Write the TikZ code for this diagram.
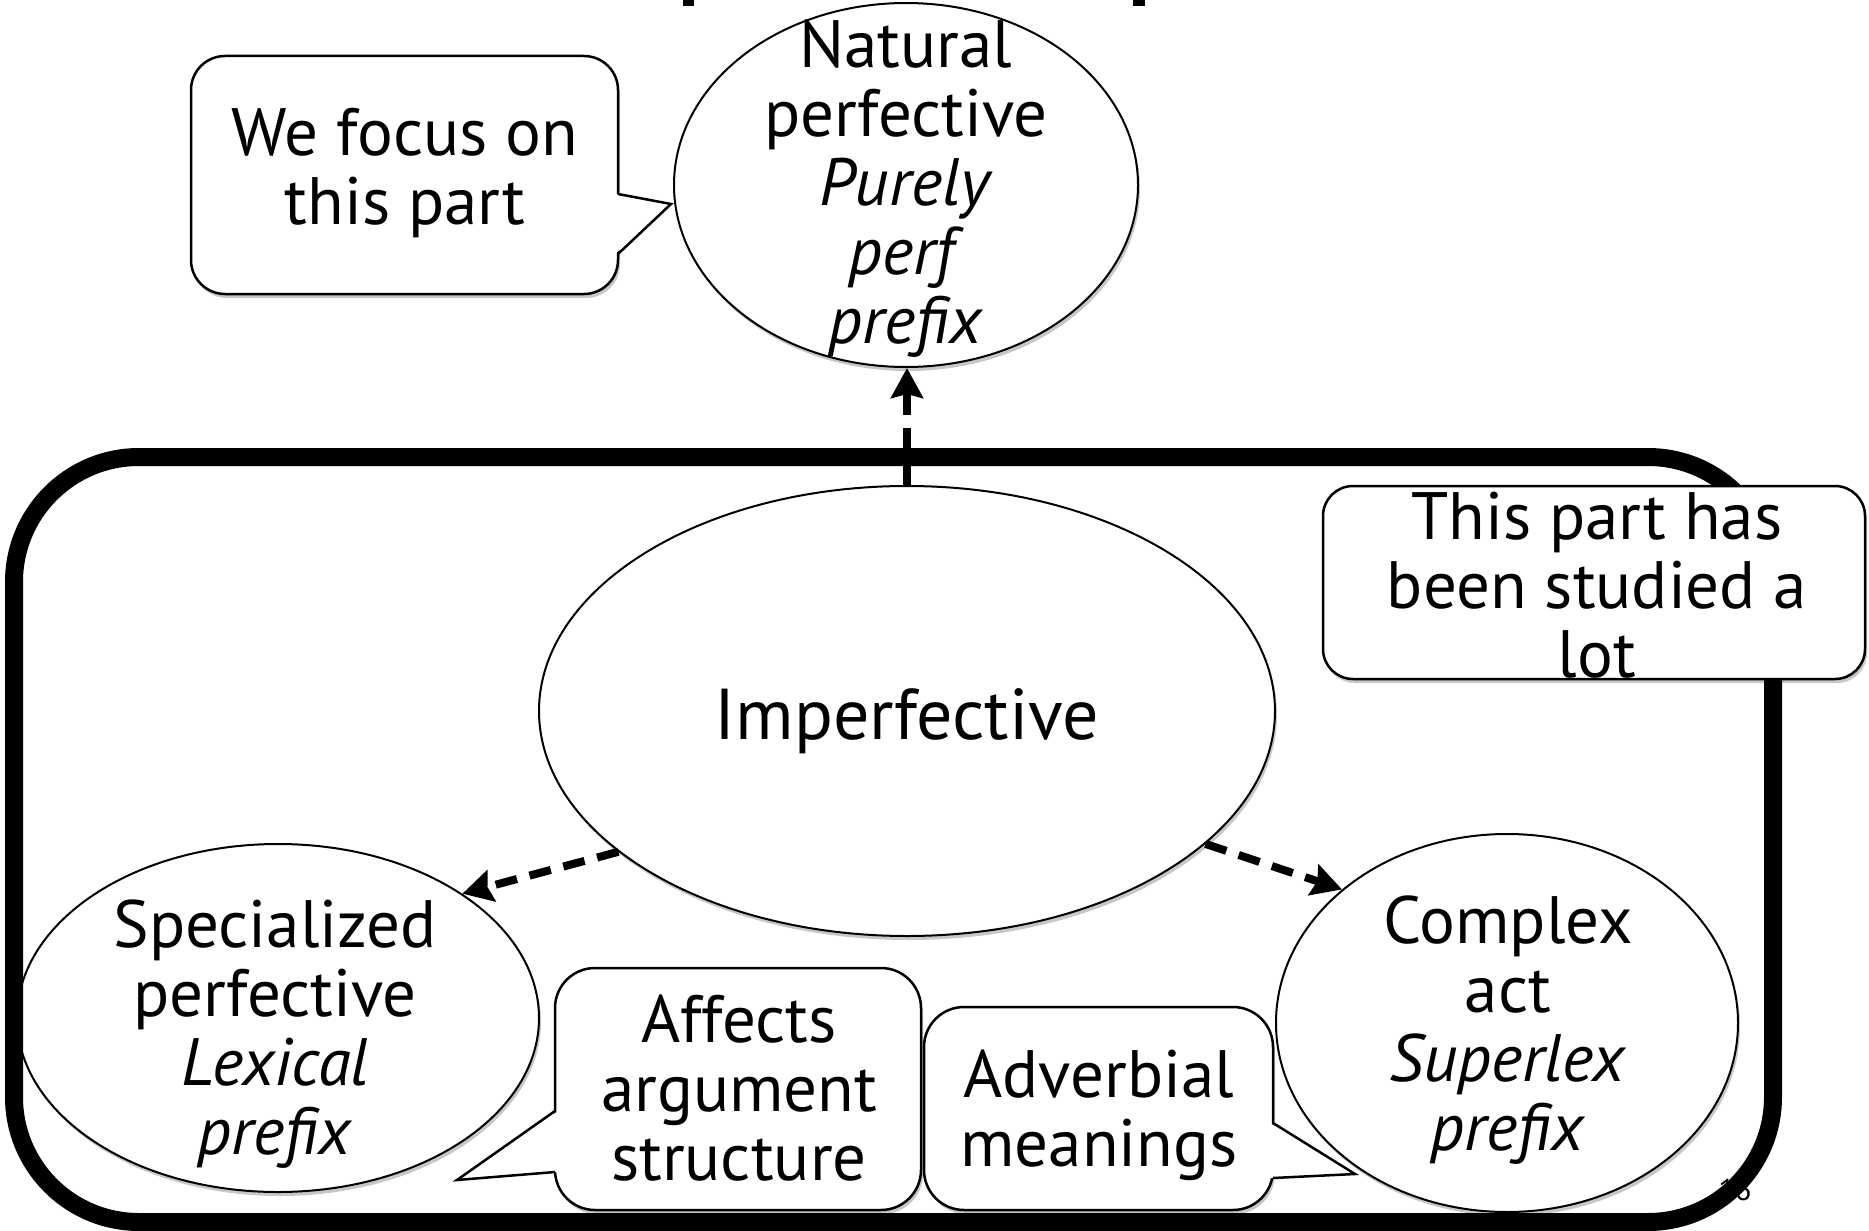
\documentclass[tikz,border=0pt]{standalone}
\usepackage{fontspec}
\setmainfont{PT Sans}
\usetikzlibrary{arrows.meta,shapes.geometric,shadows}
\begin{document}
\begin{tikzpicture}[x=1pt,y=-1pt,
  lbl/.style={align=center, anchor=base, inner sep=0pt, font=\fontsize{67}{69}\selectfont},
  shd/.style={drop shadow={shadow xshift=2pt, shadow yshift=-4pt, opacity=0.22, fill=black}},
  oval/.style={ellipse, draw, line width=2pt, fill=white, inner sep=0pt, shd},
  callbox/.style={rectangle, draw, line width=2.5pt, fill=white, inner sep=0pt, rounded corners=34pt, shd},
  pointer/.style={line width=2.5pt, line join=miter},
  dasharrow/.style={line width=8pt, dash pattern=on 22pt off 13pt, -{Stealth[length=30pt,width=32pt,inset=4pt]}},
  border/.style={line width=18pt, rounded corners=125pt}
]
\useasboundingbox (0,0) rectangle (1869,1231);
% title fragments cut off at top
\fill (683,0) rectangle (694,6);
\fill (1133,0) rectangle (1145,6);

% page number
\node[anchor=base, inner sep=0pt, font=\fontsize{30}{30}\selectfont] (pg) at (1735,1200) {16};

% ellipses
\node[oval, minimum width=464pt, minimum height=364pt] (nat) at (906,185) {};
\node[oval, minimum width=736pt, minimum height=450pt] (imp) at (907,711) {};
\node[oval, minimum width=522pt, minimum height=348pt] (spec) at (278,1018) {};
\node[oval, minimum width=462pt, minimum height=378pt] (cplx) at (1507,1023) {};

% big frame
\draw[border] (14,457) rectangle (1773,1222);

% arrows
\draw[dasharrow] (imp.north) -- (imp.north |- nat.south);
\draw[dasharrow] (imp.206) -- (spec.34);
\draw[dasharrow] (imp.336) -- (cplx.141);

% texts in ellipses (anchor = baseline of last line)
\node[lbl] (tnat) at (906,343) {Natural\\perfective\\\textit{Purely}\\\textit{perf}\\\textit{prefix}};
\node[lbl, font=\fontsize{72}{69}\selectfont] (timp) at (907,739) {Imperfective};
\node[lbl] (tspec) at (275,1154) {Specialized\\perfective\\\textit{Lexical}\\\textit{prefix}};
\node[lbl] (tcplx) at (1508,1150) {Complex\\act\\\textit{Superlex}\\\textit{prefix}};

% callout 1
\node[callbox, minimum width=427pt, minimum height=238pt] (c1) at (404.5,175) {};
\coordinate (c1a) at (618,194);
\coordinate (c1t) at (671,204);
\coordinate (c1b) at (618,254);
\fill[white] ([xshift=-3pt]c1a) -- (c1t) -- ([xshift=-3pt]c1b) -- cycle;
\draw[pointer] (c1a) -- (c1t) -- (c1b);
\node[lbl] (tc1) at (405,224) {We focus on\\this part};

% callout 2
\node[callbox, rounded corners=30pt, minimum width=542pt, minimum height=193pt] (c2) at (1594,582.5) {};
\node[lbl] (tc2) at (1597,677) {This part has\\been studied a\\lot};

% callout 3 (Affects)
\node[callbox, rounded corners=40pt, minimum width=366pt, minimum height=242pt] (c3) at (738,1089) {};
\coordinate (c3a) at (555,1111);
\coordinate (c3t) at (457,1180);
\coordinate (c3b) at (555,1172);
\fill[white] ([xshift=3pt]c3a) -- (c3t) -- ([xshift=3pt]c3b) -- cycle;
\draw[pointer] (c3a) -- (c3t) -- (c3b);
\node[lbl] (tc3) at (739,1180) {Affects\\argument\\structure};

% callout 4 (Adverbial)
\node[callbox, rounded corners=40pt, minimum width=349pt, minimum height=203pt] (c4) at (1098.5,1108.5) {};
\coordinate (c4a) at (1273,1123);
\coordinate (c4t) at (1355,1174);
\coordinate (c4b) at (1273,1178);
\fill[white] ([xshift=-3pt]c4a) -- (c4t) -- ([xshift=-3pt]c4b) -- cycle;
\draw[pointer] (c4a) -- (c4t) -- (c4b);
\node[lbl] (tc4) at (1099,1166) {Adverbial\\meanings};
\end{tikzpicture}
\end{document}
